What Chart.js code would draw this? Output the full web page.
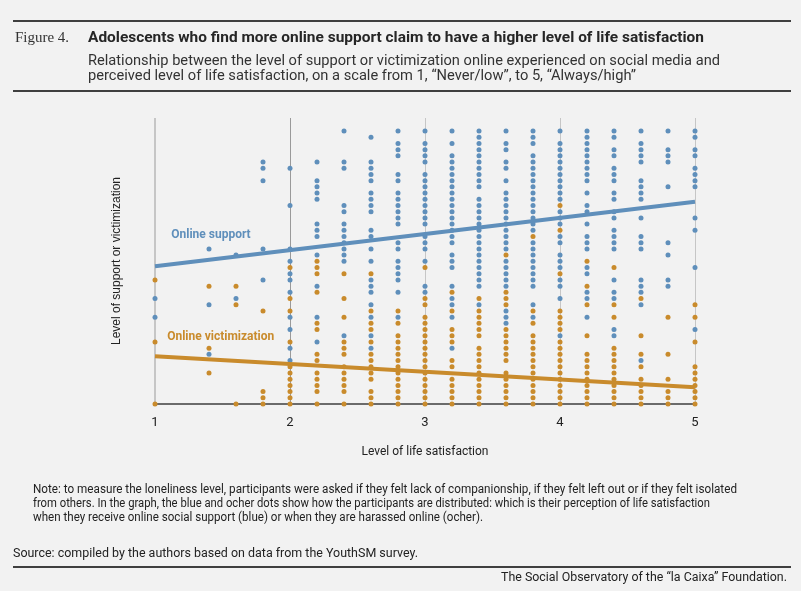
<!DOCTYPE html>
<html>
<head>
<meta charset="utf-8">
<script src="https://cdn.jsdelivr.net/npm/chart.js@4.4.1/dist/chart.umd.min.js"></script>
<style>
  html, body { margin: 0; padding: 0; background: #f2f2f2; }
  #page { position: relative; width: 801px; height: 591px; overflow: hidden; }
  #chart { position: absolute; left: 0; top: 0; }
  .t { position: absolute; white-space: nowrap; transform-origin: 0 50%; color: #222; font-family: Roboto, sans-serif; }
  .rule { position: absolute; left: 13px; width: 778px; height: 2px; background: #3f3f3f; }
</style>
</head>
<body>
<div id="page">
  <canvas id="chart" width="801" height="591"></canvas>
  <div class="rule" style="top:20px"></div>
  <div class="t" data-w="54" style="left:15px;top:28px;line-height:18px;font-size:15px;font-family:'Liberation Serif',serif;color:#333">Figure 4.</div>
  <div class="t" data-w="616" style="left:88px;top:28px;line-height:18px;font-size:15px;font-weight:bold;color:#262626">Adolescents who find more online support claim to have a higher level of life satisfaction</div>
  <div class="t" data-w="632" style="left:88px;top:52px;line-height:16px;font-size:14px;color:#333">Relationship between the level of support or victimization online experienced on social media and</div>
  <div class="t" data-w="548" style="left:88px;top:67px;line-height:16px;font-size:14px;color:#333">perceived level of life satisfaction, on a scale from 1, “Never/low”, to 5, “Always/high”</div>
  <div class="rule" style="top:90px"></div>

  <div class="t" data-w="704" style="left:33px;top:482px;line-height:14px;font-size:12px">Note: to measure the loneliness level, participants were asked if they felt lack of companionship, if they felt left out or if they felt isolated</div>
  <div class="t" data-w="677" style="left:33px;top:496px;line-height:14px;font-size:12px">from others. In the graph, the blue and ocher dots show how the participants are distributed: which is their perception of life satisfaction</div>
  <div class="t" data-w="450" style="left:33px;top:510px;line-height:14px;font-size:12px">when they receive online social support (blue) or when they are harassed online (ocher).</div>
  <div class="t" data-w="405" style="left:13px;top:546px;line-height:14px;font-size:12px">Source: compiled by the authors based on data from the YouthSM survey.</div>
  <div class="rule" style="top:566px"></div>
  <div class="t" data-w="286" style="left:501px;top:570px;line-height:14px;font-size:12px">The Social Observatory of the “la Caixa” Foundation.</div>
</div>
<script>
// life satisfaction values that have dots (x axis)
const columns = [1, 1.4, 1.6, 1.8, 2, 2.2, 2.4, 2.6, 2.8, 3, 3.2, 3.4, 3.6, 3.8, 4, 4.2, 4.4, 4.6, 4.8, 5];

// dot levels on the (unlabelled) support / victimization axis, one list per column
const supportLevels = [
  [14, 17],
  [8, 16, 25],
  [17, 24],
  [20, 25, 36, 38, 39],
  [7, 9, 12, 14, 18, 20, 21, 23, 25, 32, 38],
  [10, 14, 19, 24, 27, 28, 29, 33, 34, 35, 36, 39],
  [11, 23, 24, 25, 26, 27, 28, 29, 31, 32, 38, 39, 44],
  [9, 11, 14, 16, 18, 19, 20, 23, 25, 27, 28, 31, 32, 33, 34, 36, 37, 38, 39, 43],
  [14, 18, 20, 21, 22, 23, 25, 26, 29, 30, 31, 32, 33, 34, 36, 37, 40, 41, 42, 44],
  [18, 19, 23, 25, 26, 27, 29, 30, 31, 32, 33, 34, 35, 36, 37, 39, 40, 41, 42, 44],
  [9, 14, 16, 17, 19, 22, 23, 24, 26, 27, 28, 29, 30, 31, 32, 33, 34, 35, 36, 37, 38, 39, 40, 42, 44],
  [16, 19, 20, 21, 22, 23, 24, 25, 26, 27, 28, 29, 30, 31, 32, 33, 35, 36, 37, 38, 39, 40, 41, 42, 43, 44],
  [13, 14, 15, 19, 20, 21, 22, 23, 25, 26, 27, 28, 29, 30, 31, 32, 33, 34, 36, 38, 39, 41, 42, 44],
  [14, 16, 19, 20, 21, 22, 23, 24, 25, 26, 28, 29, 30, 31, 32, 33, 34, 35, 36, 37, 38, 39, 40, 42, 43, 44],
  [11, 17, 19, 20, 22, 23, 24, 26, 27, 29, 30, 31, 33, 34, 35, 36, 37, 38, 39, 40, 41, 42, 44],
  [14, 17, 18, 21, 22, 25, 26, 27, 29, 31, 32, 34, 36, 37, 38, 39, 40, 41, 42, 43, 44],
  [11, 12, 17, 18, 20, 25, 26, 27, 28, 30, 31, 33, 34, 36, 37, 38, 40, 41, 43, 44],
  [7, 16, 18, 19, 20, 25, 26, 27, 30, 33, 34, 35, 36, 39, 40, 41, 42, 44],
  [19, 20, 24, 26, 35, 39, 40, 41, 44],
  [12, 22, 28, 30, 35, 36, 37, 38, 40, 41, 43, 44],
];

const victimLevels = [
  [0, 10, 20],
  [5, 9, 19],
  [0, 16, 19],
  [0, 1, 2, 15],
  [0, 1, 2, 3, 4, 5, 6, 10, 15, 17, 22],
  [0, 2, 3, 4, 5, 7, 8, 12, 13, 18, 21, 22, 23],
  [0, 2, 3, 4, 5, 6, 8, 9, 10, 14, 17, 21],
  [0, 1, 2, 4, 5, 6, 7, 8, 10, 12, 13, 15, 21],
  [0, 1, 2, 3, 4, 5, 6, 7, 8, 9, 10, 11, 13, 15],
  [0, 1, 2, 3, 4, 5, 6, 7, 8, 9, 10, 11, 12, 13, 14, 16, 17, 22],
  [0, 1, 2, 3, 4, 6, 7, 10, 11, 12, 15, 18],
  [0, 1, 2, 3, 4, 5, 6, 7, 8, 9, 11, 12, 13, 14, 15, 17],
  [0, 1, 2, 3, 4, 5, 7, 8, 9, 10, 11, 12, 16, 17, 18, 24],
  [0, 1, 2, 3, 4, 5, 6, 7, 8, 9, 10, 11, 13, 15, 27],
  [0, 1, 2, 3, 4, 5, 6, 7, 8, 9, 10, 12, 13, 14, 15, 21, 28, 32],
  [0, 1, 2, 3, 4, 5, 6, 7, 8, 11, 16, 19, 23],
  [0, 1, 2, 3, 4, 5, 6, 7, 8, 9, 14, 16, 22],
  [0, 1, 2, 3, 4, 6, 8, 11, 17],
  [0, 1, 2, 4, 8, 14],
  [0, 1, 2, 3, 4, 5, 6, 10, 14, 16],
];

// trend lines, ends at x = 1 and x = 5
const fitX = [1, 5];
const supportFit = [22.2, 32.6];
const victimFit = [7.7, 2.7];

const xTicks = [1, 2, 3, 4, 5];

const BLUE = "#5f8fbb";
const OCHER = "#c98b2c";

const toPoints = (levels) => columns.flatMap((x, i) => levels[i].map((y) => ({ x, y })));
const fitPoints = (ys) => fitX.map((x, i) => ({ x, y: ys[i] }));

// series names written next to the trend lines
const seriesLabels = {
  id: "seriesLabels",
  afterDatasetsDraw(chart) {
    const { ctx, scales } = chart;
    ctx.save();
    ctx.font = "bold 12px Roboto";
    ctx.textBaseline = "middle";
    ctx.fillStyle = BLUE;
    ctx.fillText("Online support", scales.x.getPixelForValue(1.12), scales.y.getPixelForValue(27.3));
    ctx.fillStyle = OCHER;
    ctx.fillText("Online victimization", scales.x.getPixelForValue(1.09), scales.y.getPixelForValue(10.8));
    ctx.restore();
  },
};

new Chart(document.getElementById("chart"), {
  type: "scatter",
  data: {
    datasets: [
      { type: "line", data: fitPoints(supportFit), borderColor: BLUE, borderWidth: 4, pointRadius: 0, clip: false },
      { type: "line", data: fitPoints(victimFit), borderColor: OCHER, borderWidth: 4, pointRadius: 0, clip: false },
      { data: toPoints(victimLevels), backgroundColor: OCHER, borderWidth: 0, pointRadius: 2.5, clip: false },
      { data: toPoints(supportLevels), backgroundColor: BLUE, borderWidth: 0, pointRadius: 2.5, clip: false },
    ],
  },
  options: {
    responsive: false,
    animation: false,
    events: [],
    layout: { padding: { left: 105, top: 118, right: 106, bottom: 117 } },
    plugins: { legend: { display: false }, tooltip: { enabled: false } },
    scales: {
      x: {
        type: "linear",
        min: 1,
        max: 5,
        afterBuildTicks: (s) => { s.ticks = xTicks.map((v) => ({ value: v })); },
        afterFit: (s) => { s.height = 70; },
        ticks: { padding: 11, color: "#222", font: { family: "Roboto", size: 13 } },
        grid: {
          drawTicks: false,
          color: (c) => (c.tick && c.tick.value === 2 ? "#9a9a9a" : "#c6c6c6"),
          lineWidth: (c) => (c.tick && c.tick.value === 1 ? 2 : 1),
        },
        border: { display: true, color: "#6b6b6b", width: 2 },
        title: {
          display: true,
          text: "Level of life satisfaction",
          color: "#222",
          font: { family: "Roboto", size: 12 },
          padding: { top: 0, bottom: 15 },
        },
      },
      y: {
        min: 0,
        max: 46.1,
        afterFit: (s) => { s.width = 50; },
        ticks: { display: false },
        grid: { display: false },
        border: { display: false },
        title: {
          display: true,
          text: "Level of support or victimization",
          color: "#222",
          font: { family: "'Liberation Sans', Arial, sans-serif", size: 12 },
          padding: { top: 4, bottom: 0 },
        },
      },
    },
  },
  plugins: [seriesLabels],
});

// squeeze the html texts to the widths of the condensed face in the original
document.querySelectorAll("[data-w]").forEach((el) => {
  const w = el.getBoundingClientRect().width;
  el.style.transform = `scaleX(${el.dataset.w / w})`;
});
</script>
</body>
</html>
